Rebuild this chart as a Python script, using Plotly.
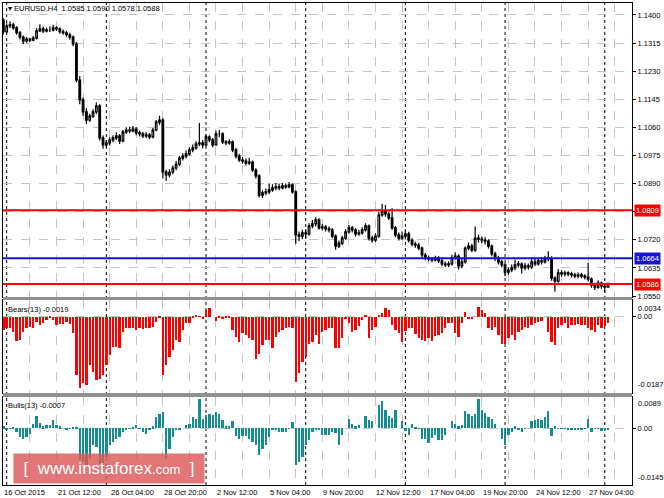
import plotly.graph_objects as go

# EURUSD H4, 16 Oct 2015 20:00 .. 30 Nov 2015 04:00, one entry per bar
first_open = 1.1385
closes = [
    1.1349, 1.1367, 1.1370, 1.1361, 1.1346, 1.1333, 1.1321, 1.1327, 1.1324, 1.1330,
    1.1352, 1.1358, 1.1352, 1.1355, 1.1355, 1.1361, 1.1358, 1.1349, 1.1346, 1.1340,
    1.1333, 1.1312, 1.1203, 1.1143, 1.1107, 1.1082, 1.1094, 1.1107, 1.1125, 1.1028,
    1.1007, 1.1013, 1.1022, 1.1028, 1.1034, 1.1019, 1.1046, 1.1052, 1.1049, 1.1055,
    1.1043, 1.1040, 1.1034, 1.1037, 1.1031, 1.1052, 1.1076, 1.1082, 1.0925, 1.0916,
    1.0925, 1.0937, 1.0949, 1.0967, 1.0973, 1.0980, 1.0992, 1.0998, 1.1010, 1.1013,
    1.1007, 1.1031, 1.1022, 1.1007, 1.1040, 1.1040, 1.1016, 1.1013, 1.1016, 1.0992,
    1.0973, 1.0961, 1.0958, 1.0952, 1.0955, 1.0931, 1.0913, 1.0855, 1.0862, 1.0865,
    1.0871, 1.0877, 1.0880, 1.0877, 1.0883, 1.0880, 1.0886, 1.0865, 1.0735, 1.0731,
    1.0741, 1.0738, 1.0762, 1.0768, 1.0780, 1.0756, 1.0759, 1.0753, 1.0750, 1.0731,
    1.0701, 1.0710, 1.0725, 1.0744, 1.0756, 1.0750, 1.0738, 1.0741, 1.0750, 1.0762,
    1.0725, 1.0719, 1.0731, 1.0795, 1.0807, 1.0798, 1.0786, 1.0756, 1.0735, 1.0725,
    1.0731, 1.0738, 1.0719, 1.0707, 1.0704, 1.0695, 1.0674, 1.0665, 1.0662, 1.0659,
    1.0665, 1.0656, 1.0647, 1.0644, 1.0647, 1.0665, 1.0671, 1.0641, 1.0653, 1.0695,
    1.0701, 1.0689, 1.0725, 1.0722, 1.0719, 1.0716, 1.0701, 1.0677, 1.0665, 1.0653,
    1.0644, 1.0622, 1.0629, 1.0635, 1.0644, 1.0647, 1.0635, 1.0641, 1.0638, 1.0653,
    1.0647, 1.0656, 1.0653, 1.0662, 1.0665, 1.0604, 1.0595, 1.0620, 1.0617, 1.0620,
    1.0617, 1.0614, 1.0610, 1.0614, 1.0610, 1.0607, 1.0601, 1.0583, 1.0577, 1.0589,
    1.0580, 1.0577, 1.0588]
highs = [
    1.1390, 1.1375, 1.1381, 1.1376, 1.1366, 1.1351, 1.1338, 1.1333, 1.1331, 1.1336,
    1.1360, 1.1372, 1.1365, 1.1362, 1.1366, 1.1370, 1.1366, 1.1362, 1.1356, 1.1352,
    1.1346, 1.1338, 1.1318, 1.1215, 1.1150, 1.1118, 1.1101, 1.1115, 1.1135, 1.1130,
    1.1035, 1.1020, 1.1030, 1.1036, 1.1045, 1.1040, 1.1052, 1.1060, 1.1062, 1.1064,
    1.1060, 1.1050, 1.1046, 1.1045, 1.1043, 1.1058, 1.1082, 1.1095, 1.1088, 1.0932,
    1.0933, 1.0945, 1.0958, 1.0973, 1.0982, 1.0990, 1.1000, 1.1008, 1.1018, 1.1073,
    1.1022, 1.1038, 1.1036, 1.1028, 1.1050, 1.1052, 1.1045, 1.1022, 1.1024, 1.1020,
    1.0998, 1.0980, 1.0970, 1.0966, 1.0968, 1.0960, 1.0936, 1.0918, 1.0870, 1.0875,
    1.0890, 1.0888, 1.0892, 1.0889, 1.0892, 1.0890, 1.0895, 1.0890, 1.0870, 1.0745,
    1.0750, 1.0752, 1.0770, 1.0780, 1.0788, 1.0785, 1.0768, 1.0765, 1.0760, 1.0756,
    1.0736, 1.0718, 1.0732, 1.0752, 1.0765, 1.0762, 1.0755, 1.0750, 1.0758, 1.0770,
    1.0766, 1.0732, 1.0740, 1.0805, 1.0829, 1.0825, 1.0805, 1.0815, 1.0762, 1.0742,
    1.0745, 1.0752, 1.0744, 1.0725, 1.0714, 1.0710, 1.0700, 1.0680, 1.0672, 1.0668,
    1.0672, 1.0670, 1.0662, 1.0654, 1.0655, 1.0675, 1.0682, 1.0676, 1.0662, 1.0700,
    1.0712, 1.0708, 1.0760, 1.0735, 1.0730, 1.0728, 1.0722, 1.0706, 1.0684, 1.0672,
    1.0660, 1.0650, 1.0636, 1.0645, 1.0660, 1.0656, 1.0652, 1.0650, 1.0648, 1.0668,
    1.0662, 1.0665, 1.0668, 1.0672, 1.0685, 1.0670, 1.0610, 1.0632, 1.0628, 1.0626,
    1.0625, 1.0623, 1.0620, 1.0621, 1.0620, 1.0616, 1.0650, 1.0606, 1.0590, 1.0598,
    1.0594, 1.0588, 1.0590]
lows = [
    1.1341, 1.1344, 1.1360, 1.1355, 1.1340, 1.1326, 1.1312, 1.1316, 1.1318, 1.1320,
    1.1326, 1.1348, 1.1345, 1.1347, 1.1348, 1.1350, 1.1351, 1.1343, 1.1340, 1.1334,
    1.1325, 1.1305, 1.1196, 1.1130, 1.1095, 1.1070, 1.1076, 1.1088, 1.1100, 1.1020,
    1.0995, 1.1000, 1.1005, 1.1015, 1.1022, 1.1010, 1.1015, 1.1040, 1.1042, 1.1045,
    1.1036, 1.1032, 1.1028, 1.1028, 1.1024, 1.1027, 1.1048, 1.1068, 1.0905, 1.0898,
    1.0908, 1.0918, 1.0930, 1.0942, 1.0960, 1.0966, 1.0975, 1.0985, 1.0992, 1.1003,
    1.0996, 1.1002, 1.1015, 1.1000, 1.1004, 1.1030, 1.1010, 1.1006, 1.1007, 1.0985,
    1.0966, 1.0955, 1.0950, 1.0945, 1.0946, 1.0925, 1.0905, 1.0848, 1.0846, 1.0855,
    1.0858, 1.0865, 1.0870, 1.0870, 1.0872, 1.0874, 1.0876, 1.0860, 1.0708, 1.0716,
    1.0722, 1.0725, 1.0732, 1.0755, 1.0760, 1.0750, 1.0748, 1.0745, 1.0742, 1.0725,
    1.0690, 1.0695, 1.0704, 1.0720, 1.0738, 1.0742, 1.0730, 1.0732, 1.0735, 1.0745,
    1.0718, 1.0712, 1.0713, 1.0726, 1.0790, 1.0790, 1.0780, 1.0750, 1.0728, 1.0718,
    1.0720, 1.0725, 1.0712, 1.0700, 1.0696, 1.0688, 1.0666, 1.0658, 1.0655, 1.0652,
    1.0654, 1.0650, 1.0640, 1.0638, 1.0638, 1.0642, 1.0660, 1.0630, 1.0634, 1.0648,
    1.0688, 1.0682, 1.0684, 1.0712, 1.0710, 1.0706, 1.0694, 1.0670, 1.0656, 1.0645,
    1.0636, 1.0610, 1.0614, 1.0622, 1.0628, 1.0636, 1.0618, 1.0628, 1.0630, 1.0632,
    1.0640, 1.0642, 1.0645, 1.0648, 1.0655, 1.0596, 1.0563, 1.0590, 1.0608, 1.0610,
    1.0610, 1.0606, 1.0604, 1.0604, 1.0603, 1.0600, 1.0595, 1.0575, 1.0568, 1.0572,
    1.0572, 1.0560, 1.0578]
opens = [first_open] + closes[:-1]

bears = [
    -0.0038, -0.0033, -0.0033, -0.0043, -0.0070, -0.0067, -0.0043, -0.0033, -0.0029, -0.0033,
    -0.0014, -0.0024, -0.0019, -0.0010, -0.0003, -0.0010, -0.0024, -0.0022, -0.0022, -0.0014,
    -0.0022, -0.0048, -0.0166, -0.0204, -0.0189, -0.0196, -0.0139, -0.0158, -0.0182, -0.0179,
    -0.0167, -0.0139, -0.0110, -0.0086, -0.0086, -0.0091, -0.0043, -0.0033, -0.0033, -0.0033,
    -0.0038, -0.0033, -0.0036, -0.0033, -0.0033, -0.0029, -0.0014, -0.0003, -0.0167, -0.0139,
    -0.0115, -0.0096, -0.0067, -0.0072, -0.0038, -0.0019, -0.0019, -0.0005, 0.0005, 0.0002,
    -0.0007, 0.0019, 0.0024, 0.0000, -0.0012, -0.0003, -0.0007, -0.0005, -0.0003, -0.0038,
    -0.0057, -0.0072, -0.0048, -0.0053, -0.0062, -0.0067, -0.0120, -0.0108, -0.0081, -0.0067,
    -0.0067, -0.0091, -0.0057, -0.0043, -0.0038, -0.0033, -0.0029, -0.0033, -0.0187, -0.0163,
    -0.0129, -0.0115, -0.0077, -0.0072, -0.0053, -0.0077, -0.0043, -0.0038, -0.0033, -0.0033,
    -0.0091, -0.0089, -0.0060, -0.0007, -0.0019, -0.0045, -0.0038, -0.0026, -0.0010, 0.0003,
    -0.0062, -0.0038, -0.0029, 0.0005, 0.0012, 0.0024, 0.0019, -0.0024, -0.0038, -0.0048,
    -0.0072, -0.0041, -0.0033, -0.0033, -0.0051, -0.0062, -0.0067, -0.0070, -0.0060, -0.0070,
    -0.0055, -0.0053, -0.0048, -0.0033, -0.0019, -0.0019, -0.0048, -0.0057, -0.0019, 0.0014,
    -0.0007, -0.0007, 0.0000, 0.0029, 0.0019, 0.0010, -0.0033, -0.0038, -0.0029, -0.0053,
    -0.0077, -0.0077, -0.0062, -0.0053, -0.0067, -0.0043, -0.0038, -0.0029, -0.0033, -0.0024,
    -0.0019, -0.0014, -0.0012, 0.0000, -0.0043, -0.0072, -0.0081, -0.0033, -0.0024, -0.0019,
    -0.0033, -0.0024, -0.0024, -0.0022, -0.0024, -0.0024, -0.0033, -0.0038, -0.0045, -0.0024,
    -0.0033, -0.0026, -0.0019]
bulls = [
    0.0005, -0.0007, -0.0002, 0.0001, -0.0013, -0.0028, -0.0036, -0.0028, -0.0018, 0.0014,
    0.0038, 0.0017, 0.0006, 0.0008, 0.0011, 0.0024, 0.0008, 0.0006, 0.0000, -0.0004,
    -0.0002, 0.0001, 0.0002, -0.0102, -0.0108, -0.0118, -0.0095, -0.0055, -0.0060, -0.0113,
    -0.0118, -0.0092, -0.0055, -0.0044, -0.0034, -0.0028, -0.0013, -0.0007, -0.0002, 0.0003,
    0.0008, -0.0002, -0.0013, -0.0018, -0.0007, 0.0006, 0.0035, 0.0045, 0.0051, -0.0097,
    -0.0065, -0.0028, -0.0007, -0.0004, 0.0000, 0.0011, 0.0014, 0.0035, 0.0027, 0.0093,
    0.0030, 0.0040, 0.0045, 0.0040, 0.0051, 0.0045, 0.0024, 0.0006, 0.0006, 0.0021,
    -0.0025, -0.0036, -0.0025, -0.0025, -0.0034, -0.0044, -0.0055, -0.0086, -0.0065, -0.0055,
    -0.0028, -0.0007, -0.0007, -0.0011, -0.0011, -0.0011, -0.0002, 0.0019, -0.0118, -0.0108,
    -0.0092, -0.0055, -0.0039, -0.0013, -0.0007, -0.0007, -0.0023, -0.0023, -0.0023, -0.0011,
    -0.0016, -0.0053, -0.0021, 0.0000, 0.0030, 0.0013, 0.0005, 0.0008, 0.0000, 0.0037,
    0.0026, 0.0023, 0.0000, 0.0074, 0.0086, 0.0058, 0.0037, 0.0032, 0.0058, 0.0000,
    0.0023, -0.0008, -0.0023, 0.0013, 0.0002, -0.0002, -0.0034, -0.0034, -0.0047, -0.0032,
    -0.0023, -0.0037, -0.0037, -0.0023, 0.0000, 0.0021, 0.0013, 0.0005, 0.0008, 0.0055,
    0.0044, 0.0037, 0.0044, 0.0093, 0.0058, 0.0047, 0.0034, 0.0030, 0.0013, 0.0000,
    -0.0034, -0.0053, -0.0021, -0.0011, 0.0005, -0.0005, -0.0013, -0.0002, 0.0000, 0.0023,
    0.0026, 0.0030, 0.0026, 0.0034, 0.0053, -0.0026, 0.0005, -0.0002, -0.0002, -0.0002,
    -0.0004, -0.0005, -0.0004, -0.0004, -0.0006, -0.0003, 0.0030, -0.0013, -0.0003, -0.0002,
    -0.0008, -0.0005, -0.0007]
bars = list(range(len(closes)))

time_ticks = [0, 16, 32, 48, 64, 80, 96, 112, 128, 144, 160, 176]
time_labels = ["16 Oct 2015", "21 Oct 12:00", "26 Oct 04:00", "28 Oct 20:00",
               "2 Nov 12:00", "5 Nov 04:00", "9 Nov 20:00", "12 Nov 12:00",
               "17 Nov 04:00", "19 Nov 20:00", "24 Nov 12:00", "27 Nov 04:00"]
week_starts = [1, 31, 61, 91, 121, 151, 181]
price_ticks = [1.1400, 1.1315, 1.1230, 1.1145, 1.1060, 1.0975, 1.0890,
               1.0805, 1.0720, 1.0635, 1.0550]
levels = [1.0809, 1.0664, 1.0586]
level_colors = ["#ff0000", "#1414d2", "#ff0000"]

FONT = "Liberation Sans"
fs = 7.5
grid = "#c4c4c4"

fig = go.Figure()
fig.add_trace(go.Candlestick(
    x=bars, open=opens, high=highs, low=lows, close=closes,
    increasing=dict(line=dict(color="black", width=1.2), fillcolor="white"),
    decreasing=dict(line=dict(color="black", width=1.2), fillcolor="black"),
    whiskerwidth=0, xaxis="x", yaxis="y", showlegend=False))
fig.add_trace(go.Bar(x=bars, y=bears, marker=dict(color="#ff0000", line=dict(width=0)),
                     width=0.7, xaxis="x2", yaxis="y2", showlegend=False))
fig.add_trace(go.Bar(x=bars, y=bulls, marker=dict(color="#138d8d", line=dict(width=0)),
                     width=0.7, xaxis="x3", yaxis="y3", showlegend=False))

xgrid = list(range(8, 190, 8))
xstyle = dict(range=[-0.1, 189.2], tickvals=xgrid, showticklabels=False, ticks="",
              showgrid=True, gridcolor=grid, griddash="dash", gridwidth=1,
              zeroline=False, showline=True, mirror=True, linecolor="black",
              rangeslider=dict(visible=False), fixedrange=True)
ystyle = dict(side="right", showline=True, mirror=True, linecolor="black",
              ticks="outside", ticklen=3, tickcolor="black", zeroline=False,
              showgrid=True, gridcolor=grid, griddash="dash",
              tickfont=dict(family=FONT, size=fs, color="black"))

H = 482.0
def dom(top_px, bot_px):
    # pixel rows of the page (plot area runs from y=3 to y=485)
    return [(485 - bot_px) / H, (485 - top_px) / H]

def py(px):
    return (485 - px) / H

fig.update_layout(
    width=664, height=498, margin=dict(l=3, r=32, t=3, b=13),
    paper_bgcolor="white", plot_bgcolor="white", bargap=0,
    xaxis=dict(anchor="y", **xstyle),
    xaxis2=dict(anchor="y2", matches="x", **xstyle),
    xaxis3=dict(anchor="y3", matches="x", **xstyle),
    yaxis=dict(domain=dom(3, 297), range=[1.0547, 1.1436], tickvals=price_ticks,
               ticktext=["%.4f" % v for v in price_ticks], **ystyle),
    yaxis2=dict(domain=dom(300, 393), range=[-0.0219, 0.0048], tickvals=[0],
                ticktext=["0.00"], **ystyle),
    yaxis3=dict(domain=dom(397, 485), range=[-0.0180, 0.0098], tickvals=[0],
                ticktext=["0.00"], **ystyle),
    hovermode=False,
)

shapes = []
for w in week_starts:
    shapes.append(dict(type="line", xref="x", yref="paper", x0=w, x1=w, y0=0, y1=1,
                       line=dict(color="black", width=1, dash="dot"), layer="below"))
for lv, c in zip(levels, level_colors):
    shapes.append(dict(type="line", xref="paper", yref="y", x0=0, x1=1, y0=lv, y1=lv,
                       line=dict(color=c, width=2)))
for a, b in [(297, 300), (393, 397)]:
    shapes.append(dict(type="rect", xref="paper", yref="paper", x0=0, x1=1,
                       y0=py(b), y1=py(a), fillcolor="#909090", line=dict(width=0)))
fig.update_layout(shapes=shapes)

ann = []
for lv, c in zip(levels, level_colors):
    ann.append(dict(xref="paper", yref="y", x=1, y=lv, xanchor="left", yanchor="middle",
                    xshift=2, text="%.4f" % lv, showarrow=False, bgcolor=c, borderpad=1,
                    font=dict(family=FONT, size=fs, color="white")))
for t, lab in zip(time_ticks, time_labels):
    ann.append(dict(xref="x3", yref="paper", x=t, y=0, xanchor="left", yanchor="top",
                    xshift=-1, yshift=-1, text=lab, showarrow=False,
                    font=dict(family=FONT, size=fs, color="black")))
# indicator window max/min labels
for yr, val, lab in [("y2", 0.0025, "0.0034"), ("y2", -0.0196, "-0.0187"),
                     ("y3", 0.0079, "0.0089"), ("y3", -0.0155, "-0.0145")]:
    ann.append(dict(xref="paper", yref=yr, x=1, y=val, xanchor="left", yanchor="middle",
                    xshift=4, text=lab, showarrow=False,
                    font=dict(family=FONT, size=fs, color="black")))
for ypx, txt in [(9, "▾ EURUSD,H4  1.0585 1.0590 1.0578 1.0588"),
                 (309, "Bears(13) -0.0019"), (405, "Bulls(13) -0.0007")]:
    ann.append(dict(xref="paper", yref="paper", x=0, y=py(ypx), xanchor="left",
                    yanchor="middle", xshift=3, text=txt, showarrow=False,
                    font=dict(family=FONT, size=fs, color="black")))
ann.append(dict(xref="paper", yref="paper", x=(109 - 3) / 629, y=py(468),
                xanchor="center", yanchor="middle", width=188, height=27,
                text="[  www.instaforex<span style='font-size:13px'>.com</span>  ]",
                showarrow=False, bgcolor="rgba(221,88,88,0.82)",
                font=dict(family=FONT, size=17, color="white")))
fig.update_layout(annotations=ann)

fig.write_html("out.html", config={"displayModeBar": False},
               post_script="document.body.style.margin='0';"
                           "document.body.style.overflow='hidden';")
